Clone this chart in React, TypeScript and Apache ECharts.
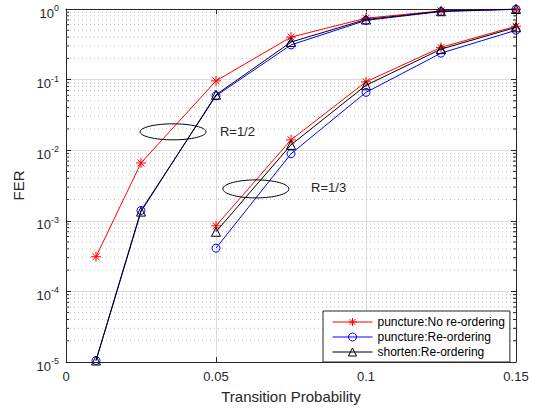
import React, { useEffect, useRef } from 'react';
import * as echarts from 'echarts';

const FONT = "'Liberation Sans', Arial, Helvetica, sans-serif";

const seriesNames = ['puncture:No re-ordering', 'puncture:Re-ordering', 'shorten:Re-ordering'];
const seriesColors = ['#ff0000', '#0000ff', '#000000'];

const xRateHalf = [0.01, 0.025, 0.05, 0.075, 0.1, 0.125, 0.15];
const xRateThird = [0.05, 0.075, 0.1, 0.125, 0.15];

const punctureNoReorderHalf = [3.1e-4, 6.6e-3, 0.096, 0.4, 0.74, 0.94, 0.99];
const punctureReorderHalf = [1.05e-5, 1.4e-3, 0.059, 0.31, 0.69, 0.92, 0.99];
const shortenReorderHalf = [1.05e-5, 1.35e-3, 0.061, 0.34, 0.71, 0.93, 1.0];

const punctureNoReorderThird = [8.5e-4, 0.014, 0.093, 0.286, 0.57];
const punctureReorderThird = [4.1e-4, 0.0089, 0.066, 0.237, 0.5];
const shortenReorderThird = [7.0e-4, 0.0119, 0.083, 0.27, 0.55];

const xTicks = [0, 0.05, 0.1, 0.15];
const yDecades = [1e-5, 1e-4, 1e-3, 1e-2, 1e-1, 1];

const annotations = [
  { label: 'R=1/2', ellipseX: 0.0357, ellipseY: 0.0182, textX: 0.0513, textY: 0.0182, rx: 33, ry: 8 },
  { label: 'R=1/3', ellipseX: 0.0633, ellipseY: 0.00283, textX: 0.0817, textY: 0.003, rx: 33, ry: 9 },
];

const ASTERISK = 'path://M5,0L5,10M0,5L10,5M1.5,1.5L8.5,8.5M1.5,8.5L8.5,1.5';
const symbols = [ASTERISK, 'circle', 'triangle'];
const symbolSizes = [10, 8, 9];

const halfData = [punctureNoReorderHalf, punctureReorderHalf, shortenReorderHalf];
const thirdData = [punctureNoReorderThird, punctureReorderThird, shortenReorderThird];

export default function App() {
  const ref = useRef<HTMLDivElement>(null);

  useEffect(() => {
    if (!ref.current) return;
    const chart = echarts.init(ref.current, undefined, { renderer: 'svg' });

    const series: any[] = [];
    for (let i = 0; i < 3; i++) {
      const common = {
        type: 'line',
        name: seriesNames[i],
        symbol: symbols[i],
        symbolSize: symbolSizes[i],
        showAllSymbol: true,
        silent: true,
        z: 3 + i,
        lineStyle: { color: seriesColors[i], width: 1 },
        itemStyle: { color: 'rgba(0,0,0,0)', borderColor: seriesColors[i], borderWidth: 1 },
        emphasis: { disabled: true },
      };
      series.push({ ...common, data: xRateHalf.map((x, j) => [x, halfData[i][j]]) });
      series.push({ ...common, data: xRateThird.map((x, j) => [x, thirdData[i][j]]) });
    }

    const axisLineStyle = { color: '#262626', width: 1 };

    chart.setOption({
      animation: false,
      textStyle: { fontFamily: FONT },
      grid: { left: 66, right: 20, top: 9, bottom: 49, containLabel: false },
      legend: {
        data: seriesNames,
        orient: 'vertical',
        left: 323,
        top: 311,
        padding: [5, 5, 4, 9],
        itemGap: 3,
        itemWidth: 40,
        itemHeight: 10,
        selectedMode: false,
        backgroundColor: '#ffffff',
        borderColor: '#262626',
        borderWidth: 1,
        borderRadius: 0,
        lineStyle: { width: 1 },
        itemStyle: { borderWidth: 1 },
        textStyle: { fontSize: 12, color: '#000000', fontFamily: FONT, lineHeight: 12 },
      },
      xAxis: [
        {
          type: 'value',
          position: 'bottom',
          min: xTicks[0],
          max: xTicks[xTicks.length - 1],
          interval: 0.05,
          name: 'Transition Probability',
          nameLocation: 'middle',
          nameGap: 27,
          nameTextStyle: { fontSize: 15, color: '#262626', fontFamily: FONT },
          axisLine: { show: true, onZero: false, lineStyle: axisLineStyle },
          axisTick: { show: true, inside: true, length: 5, lineStyle: axisLineStyle },
          axisLabel: { color: '#262626', fontSize: 13, fontFamily: FONT, margin: 8 },
          splitLine: { show: true, lineStyle: { color: '#dcdcdc', width: 1 } },
        },
        {
          type: 'value',
          position: 'top',
          min: xTicks[0],
          max: xTicks[xTicks.length - 1],
          interval: 0.05,
          axisLine: { show: true, onZero: false, lineStyle: axisLineStyle },
          axisTick: { show: true, inside: true, length: 5, lineStyle: axisLineStyle },
          axisLabel: { show: false },
          splitLine: { show: false },
        },
      ],
      yAxis: [
        {
          type: 'log',
          logBase: 10,
          min: yDecades[0],
          max: yDecades[yDecades.length - 1],
          name: 'FER',
          nameLocation: 'middle',
          nameGap: 32,
          nameTextStyle: { fontSize: 15, color: '#262626', fontFamily: FONT },
          axisLine: { show: true, onZero: false, lineStyle: axisLineStyle },
          axisTick: { show: true, inside: true, length: 5, lineStyle: axisLineStyle },
          axisLabel: {
            margin: 7,
            padding: [5, 0, 0, 0],
            formatter: (v: number) => `{b|10}{e|${Math.round(Math.log10(v))}}`,
            rich: {
              b: { fontSize: 13, color: '#262626', fontFamily: FONT, padding: [3, 0, 0, 0], verticalAlign: 'bottom' },
              e: { fontSize: 9, color: '#262626', fontFamily: FONT, verticalAlign: 'top' },
            },
          },
          splitLine: { show: true, lineStyle: { color: '#dcdcdc', width: 1 } },
        },
        {
          type: 'log',
          logBase: 10,
          position: 'right',
          min: yDecades[0],
          max: yDecades[yDecades.length - 1],
          axisLine: { show: true, onZero: false, lineStyle: axisLineStyle },
          axisTick: { show: true, inside: true, length: 5, lineStyle: axisLineStyle },
          axisLabel: { show: false },
          splitLine: { show: false },
        },
      ],
      series,
    });

    const graphics: any[] = [];
    const xL = chart.convertToPixel({ xAxisIndex: 0 }, xTicks[0]) as number;
    const xR = chart.convertToPixel({ xAxisIndex: 0 }, xTicks[xTicks.length - 1]) as number;
    for (let d = 0; d < yDecades.length - 1; d++) {
      for (let m = 2; m <= 9; m++) {
        const y = chart.convertToPixel({ yAxisIndex: 0 }, yDecades[d] * m) as number;
        graphics.push({
          type: 'line', silent: true, z: 1,
          shape: { x1: xL, y1: y, x2: xR, y2: y },
          style: { stroke: '#bcbcbc', lineWidth: 1, lineDash: [1, 3] },
        });
        graphics.push({
          type: 'line', silent: true, z: 10,
          shape: { x1: xL, y1: y, x2: xL + 3, y2: y },
          style: { stroke: '#262626', lineWidth: 1 },
        });
        graphics.push({
          type: 'line', silent: true, z: 10,
          shape: { x1: xR - 3, y1: y, x2: xR, y2: y },
          style: { stroke: '#262626', lineWidth: 1 },
        });
      }
    }
    for (const a of annotations) {
      const [cx, cy] = chart.convertToPixel({ gridIndex: 0 }, [a.ellipseX, a.ellipseY]) as number[];
      const [tx, ty] = chart.convertToPixel({ gridIndex: 0 }, [a.textX, a.textY]) as number[];
      graphics.push({
        type: 'ellipse', silent: true, z: 10,
        shape: { cx, cy, rx: a.rx, ry: a.ry },
        style: { fill: 'none', stroke: '#000000', lineWidth: 1 },
      });
      graphics.push({
        type: 'text', silent: true, z: 10, x: tx, y: ty,
        style: { text: a.label, fontSize: 13, fontFamily: FONT, fill: '#262626', verticalAlign: 'middle', align: 'left' },
      });
    }
    chart.setOption({ graphic: graphics });

    return () => chart.dispose();
  }, []);

  return <div ref={ref} style={{ width: 536, height: 411, position: 'absolute', left: 0, top: 0 }} />;
}
